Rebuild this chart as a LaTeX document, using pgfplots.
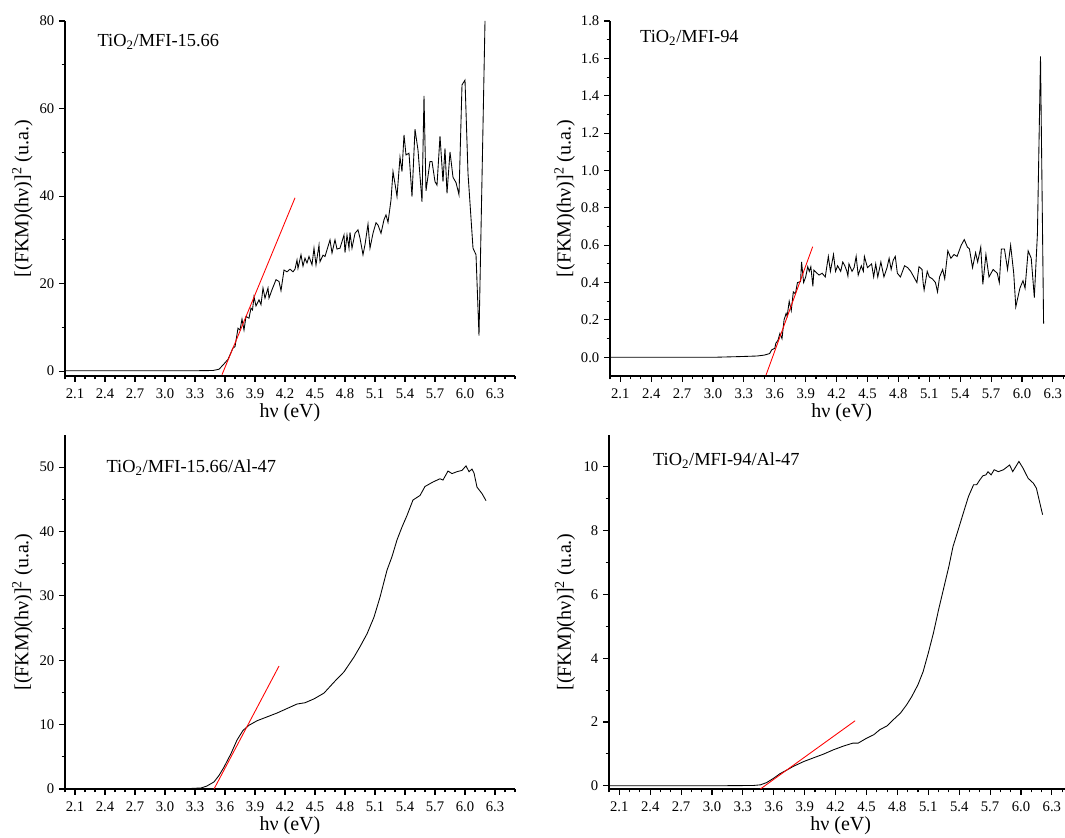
\documentclass[border=0pt]{standalone}
\usepackage{fontspec}
\setmainfont{Liberation Serif}
\usepackage{pgfplots}
\pgfplotsset{compat=1.18}

\tikzset{ann/.style={anchor=west, font=\fontsize{13.8}{15}\selectfont}}
\pgfplotsset{
  panel/.style={
    scale only axis,
    axis x line*=bottom, axis y line*=left,
    axis line style={-, line width=0.9pt, black},
    tick align=outside,
    tick style={black, line width=0.8pt},
    major tick length=4.5pt, minor tick length=2.6pt,
    xmin=2.0, xmax=6.5,
    xtick={2.1,2.4,2.7,3.0,3.3,3.6,3.9,4.2,4.5,4.8,5.1,5.4,5.7,6.0,6.3},
    minor xtick={2.0,2.2,2.3,2.5,2.6,2.8,2.9,3.1,3.2,3.4,3.5,3.7,3.8,4.0,4.1,4.3,4.4,4.6,4.7,4.9,5.0,5.2,5.3,5.5,5.6,5.8,5.9,6.1,6.2,6.4,6.5},
    xticklabel style={/pgf/number format/fixed,/pgf/number format/fixed zerofill,/pgf/number format/precision=1, yshift=-1.5pt},
    /pgf/number format/assume math mode=true,
    tick label style={font=\fontsize{11}{13}\selectfont},
    label style={font=\fontsize{15}{17}\selectfont},
    xlabel={hν (eV)},
    ylabel={[(FKM)(hν)]\textsuperscript{2} (u.a.)},
    x label style={at={(axis description cs:0.5,0)}, anchor=center, yshift=-27.5pt},
    y label style={at={(axis description cs:0,0.5)}, anchor=center, rotate=0, yshift=32pt},
    every axis plot/.append style={line width=0.65pt},
  },
}

\begin{document}
\begin{tikzpicture}
\useasboundingbox (0,0) rectangle (798.75pt,628.5pt);

% ---------------- Panel 1 ----------------
\begin{axis}[panel, at={(48.75pt,346.5pt)}, anchor=south west,
  width=337.5pt, height=266.25pt,
  ymin=-1.1, ymax=80, ytick={0,20,40,60,80}, minor ytick={10,30,50,70}]
\addplot[black] coordinates {
(2.0,0.1)(3.0,0.1)(3.30,0.1)(3.48,0.15)(3.54,0.45)(3.58,1.4)(3.63,2.7)(3.68,5.3)(3.70,5.6)
(3.73,9.8)(3.75,9.4)(3.77,11.9)(3.79,9.4)(3.81,12.5)(3.84,12.1)(3.86,14.4)(3.875,14.0)
(3.89,17.0)(3.91,14.9)(3.94,16.3)(3.96,15.2)(3.98,19.0)(4.00,16.7)(4.03,19.0)(4.04,16.7)
(4.07,18.6)(4.11,20.9)(4.14,20.5)(4.16,18.4)(4.19,23.1)(4.22,22.7)(4.25,23.3)(4.28,22.7)
(4.30,23.3)(4.32,25.4)(4.33,23.5)(4.36,26.6)(4.38,24.0)(4.40,25.8)(4.42,24.7)(4.44,26.2)
(4.47,24.3)(4.49,28.1)(4.51,24.3)(4.54,28.8)(4.55,25.0)(4.58,26.5)(4.60,26.2)(4.65,30.0)
(4.67,27.0)(4.70,30.0)(4.72,27.9)(4.75,28.1)(4.79,31.1)(4.80,27.1)(4.82,31.1)(4.84,28.1)
(4.85,31.7)(4.87,28.1)(4.90,31.5)(4.93,32.3)(4.95,30.4)(4.98,26.6)(5.00,28.9)(5.03,33.6)
(5.05,28.1)(5.08,31.5)(5.11,33.9)(5.13,33.4)(5.16,31.5)(5.19,34.6)(5.21,35.7)(5.23,34.0)
(5.26,39.1)(5.28,45.6)(5.31,41.4)(5.32,39.9)(5.35,48.9)(5.37,45.6)(5.39,54.0)(5.41,49.4)
(5.44,49.8)(5.47,39.9)(5.50,55.3)(5.53,50.5)(5.57,38.7)(5.59,62.9)(5.61,41.2)(5.65,47.9)
(5.67,47.9)(5.70,43.3)(5.72,42.5)(5.75,53.7)(5.78,43.3)(5.80,50.9)(5.82,40.6)(5.85,50.1)
(5.88,44.3)(5.91,43.1)(5.94,40.3)(5.97,65.4)(6.00,66.5)(6.03,45.2)(6.08,28.1)(6.11,26.6)
(6.14,8.1)(6.20,80)
};
\addplot[red] coordinates {(3.57,-0.8)(4.30,39.6)};
\node[ann] at (rel axis cs:0.062,0.94) {TiO\textsubscript{2}/MFI-15.66};
\end{axis}

% ---------------- Panel 2 ----------------
\begin{axis}[panel, at={(457.5pt,346.5pt)}, anchor=south west,
  width=347.6pt, height=266.25pt,
  ymin=-0.1, ymax=1.8, ytick={0,0.2,0.4,0.6,0.8,1.0,1.2,1.4,1.6,1.8},
  minor ytick={0.1,0.3,0.5,0.7,0.9,1.1,1.3,1.5,1.7},
  yticklabel style={/pgf/number format/fixed,/pgf/number format/fixed zerofill,/pgf/number format/precision=1},
  y label style={yshift=2pt}]
\addplot[black] coordinates {
(2.0,0.0)(3.0,0.0)(3.27,0.004)(3.43,0.007)(3.50,0.012)(3.55,0.02)(3.57,0.04)(3.60,0.048)
(3.61,0.075)(3.63,0.09)(3.65,0.128)(3.67,0.10)(3.69,0.20)(3.71,0.235)(3.72,0.22)(3.74,0.30)
(3.76,0.25)(3.78,0.35)(3.80,0.34)(3.82,0.40)(3.85,0.405)(3.86,0.51)(3.88,0.40)(3.90,0.43)
(3.92,0.485)(3.935,0.46)(3.95,0.485)(3.97,0.38)(3.98,0.467)(4.01,0.45)(4.03,0.44)(4.06,0.45)
(4.09,0.43)(4.12,0.54)(4.14,0.46)(4.17,0.55)(4.19,0.46)(4.21,0.49)(4.24,0.46)(4.26,0.51)
(4.28,0.49)(4.30,0.46)(4.31,0.435)(4.32,0.50)(4.35,0.46)(4.37,0.48)(4.39,0.54)(4.41,0.44)
(4.44,0.49)(4.46,0.46)(4.47,0.54)(4.50,0.48)(4.54,0.50)(4.56,0.43)(4.58,0.50)(4.60,0.43)
(4.63,0.51)(4.66,0.43)(4.69,0.48)(4.71,0.53)(4.73,0.47)(4.75,0.52)(4.77,0.54)(4.79,0.45)
(4.82,0.43)(4.86,0.49)(4.89,0.48)(4.92,0.46)(4.98,0.40)(5.00,0.485)(5.03,0.47)(5.04,0.40)
(5.05,0.36)(5.08,0.46)(5.10,0.43)(5.13,0.42)(5.16,0.40)(5.18,0.35)(5.20,0.43)(5.23,0.47)
(5.25,0.42)(5.28,0.57)(5.31,0.53)(5.34,0.55)(5.37,0.54)(5.41,0.60)(5.44,0.63)(5.47,0.59)
(5.49,0.58)(5.52,0.48)(5.55,0.56)(5.57,0.51)(5.60,0.59)(5.62,0.39)(5.65,0.55)(5.68,0.43)
(5.72,0.47)(5.76,0.45)(5.78,0.40)(5.80,0.58)(5.83,0.58)(5.86,0.47)(5.89,0.60)(5.92,0.45)
(5.94,0.27)(5.98,0.37)(6.01,0.41)(6.03,0.37)(6.06,0.57)(6.09,0.53)(6.12,0.32)(6.15,0.66)
(6.18,1.61)(6.21,0.18)
};
\addplot[red] coordinates {(3.515,-0.095)(3.968,0.592)};
\node[ann] at (rel axis cs:0.055,0.952) {TiO\textsubscript{2}/MFI-94};
\end{axis}

% ---------------- Panel 3 ----------------
\begin{axis}[panel, at={(48.75pt,36.75pt)}, anchor=south west,
  width=337.5pt, height=265.5pt,
  ymin=0, ymax=55, ytick={0,10,20,30,40,50}, minor ytick={5,15,25,35,45}]
\addplot[black] coordinates {
(2.0,0.0)(3.0,0.0)(3.22,0.05)(3.36,0.16)(3.42,0.47)(3.49,1.1)(3.54,2.1)(3.59,3.4)(3.66,5.5)
(3.72,7.6)(3.78,9.1)(3.84,9.9)(3.92,10.6)(4.02,11.2)(4.12,11.8)(4.22,12.5)(4.32,13.2)
(4.40,13.4)(4.49,14.0)(4.59,14.9)(4.69,16.6)(4.79,18.2)(4.89,20.5)(4.95,22.1)(5.02,24.1)
(5.09,26.7)(5.15,29.8)(5.22,34.0)(5.27,36.1)(5.32,38.7)(5.37,40.7)(5.42,42.5)(5.48,44.9)
(5.55,45.6)(5.60,47.0)(5.68,47.7)(5.75,48.2)(5.78,48.0)(5.83,49.4)(5.87,49.0)(5.92,49.3)
(5.97,49.5)(6.01,50.2)(6.04,49.3)(6.07,49.7)(6.09,49.1)(6.12,46.9)(6.17,45.9)(6.21,44.8)
};
\addplot[red] coordinates {(3.48,-0.3)(4.14,19.1)};
\node[ann] at (rel axis cs:0.082,0.907) {TiO\textsubscript{2}/MFI-15.66/Al-47};
\end{axis}

% ---------------- Panel 4 ----------------
\begin{axis}[panel, at={(456.75pt,36.75pt)}, anchor=south west,
  width=347.6pt, height=265.5pt,
  ymin=-0.1, ymax=11, ytick={0,2,4,6,8,10}, minor ytick={1,3,5,7,9},
  y label style={yshift=1pt}]
\addplot[black] coordinates {
(2.0,0.0)(3.0,0.0)(3.40,0.01)(3.47,0.03)(3.53,0.10)(3.60,0.24)(3.66,0.38)(3.73,0.50)
(3.79,0.61)(3.89,0.76)(3.98,0.87)(4.08,0.99)(4.18,1.13)(4.28,1.25)(4.37,1.34)(4.42,1.34)
(4.50,1.49)(4.57,1.60)(4.63,1.76)(4.70,1.88)(4.76,2.07)(4.83,2.28)(4.89,2.54)(4.94,2.80)
(5.00,3.17)(5.05,3.58)(5.10,4.16)(5.15,4.79)(5.20,5.52)(5.25,6.20)(5.30,6.88)(5.34,7.50)
(5.39,8.02)(5.44,8.55)(5.49,9.07)(5.54,9.44)(5.57,9.44)(5.60,9.59)(5.63,9.72)(5.66,9.75)
(5.68,9.85)(5.71,9.75)(5.74,9.91)(5.78,9.85)(5.83,9.91)(5.89,10.06)(5.92,9.85)(5.98,10.17)
(6.02,9.96)(6.07,9.64)(6.12,9.49)(6.15,9.33)(6.21,8.50)
};
\addplot[red] coordinates {(3.47,-0.10)(4.39,2.04)};
\node[ann] at (rel axis cs:0.085,0.927) {TiO\textsubscript{2}/MFI-94/Al-47};
\end{axis}
\end{tikzpicture}
\end{document}
